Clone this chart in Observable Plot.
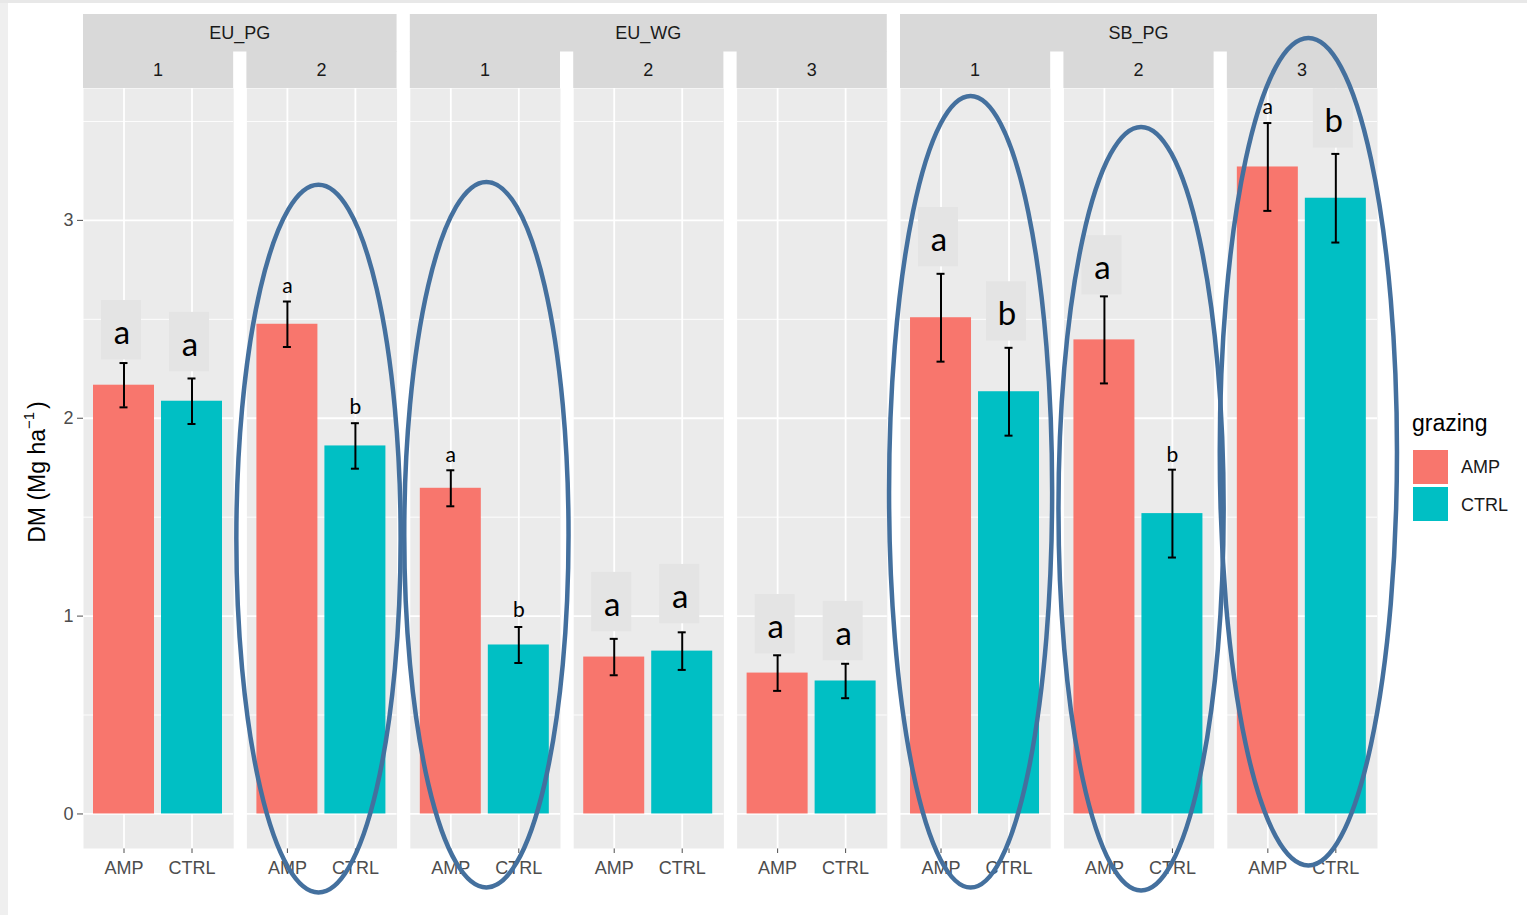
<!DOCTYPE html>
<html><head><meta charset="utf-8">
<script src="https://cdn.jsdelivr.net/npm/d3@7"></script>
<script src="https://cdn.jsdelivr.net/npm/@observablehq/plot@0.6"></script>
<style>
html,body{margin:0;padding:0;background:#fff;}
#wrap{position:relative;width:1527px;height:915px;overflow:hidden;background:#fff;}
#edgeL{position:absolute;left:0;top:0;width:8px;height:915px;background:#EFEFEF;}
#edgeT{position:absolute;left:0;top:0;width:1527px;height:3px;background:#E8E8E8;}
#chart{position:absolute;left:0;top:0;}
.lg{position:absolute;font-family:"Liberation Sans",Arial,sans-serif;color:#1A1A1A;white-space:nowrap;}
.sw{position:absolute;width:35px;height:34px;}
</style></head>
<body><div id="wrap"><div id="edgeL"></div><div id="edgeT"></div><div id="chart"></div><div id="legend"></div></div>
<script>
// ---- data ----
const sites = ["EU_PG","EU_PG","EU_WG","EU_WG","EU_WG","SB_PG","SB_PG","SB_PG"];
const plotIds = ["1","2","1","2","3","1","2","3"];
const grazing = ["AMP","CTRL"];
const yTicks = [0, 1, 2, 3];
const dmAMP  = [2.167, 2.475, 1.646, 0.793, 0.712, 2.508, 2.396, 3.270];
const dmCTRL = [2.086, 1.860, 0.854, 0.823, 0.672, 2.134, 1.518, 3.112];
const seAMP  = [0.112, 0.115, 0.091, 0.092, 0.090, 0.222, 0.220, 0.222];
const seCTRL = [0.115, 0.115, 0.091, 0.095, 0.087, 0.222, 0.222, 0.224];
const letterAMP  = ["a","a","a","a","a","a","a","a"];
const letterCTRL = ["a","b","b","a","a","b","b","b"];
const letterYAMP  = [2.43, 2.667, 1.813, 1.056, 0.944, 2.90, 2.758, 3.571];
const letterYCTRL = [2.37, 2.056, 1.030, 1.096, 0.909, 2.525, 1.813, 3.500];
const boxedAMP  = [true,false,false,true,true,true,true,false];
const boxedCTRL = [true,false,false,true,true,true,false,true];
const fillColors = ["#F8766D","#00BFC4"];
// hand-drawn ovals: panel, vertical extent (data units), centre shift and half-width (fraction of panel width)
const ovalSite  = ["EU_PG","EU_WG","SB_PG","SB_PG","SB_PG"];
const ovalPlot  = ["2","1","1","2","3"];
const ovalTop   = [3.177, 3.192, 3.626, 3.470, 3.919];
const ovalBottom= [-0.399,-0.374,-0.374,-0.389,-0.263];
const ovalShift = [-0.02, 0.01, -0.03, 0.017, 0.043];
const ovalHalf  = [0.547, 0.547, 0.543, 0.55, 0.59];

// ---- build table ----
const panelKeys = sites.map((s,i) => s + " " + plotIds[i]);
const table = [];
panelKeys.forEach((k,i) => {
  table.push({panel:k, grazing:"AMP", dm:dmAMP[i], se:seAMP[i], letter:letterAMP[i], ly:letterYAMP[i], boxed:boxedAMP[i]});
  table.push({panel:k, grazing:"CTRL", dm:dmCTRL[i], se:seCTRL[i], letter:letterCTRL[i], ly:letterYCTRL[i], boxed:boxedCTRL[i]});
});
const maxHi = d3.max(table, d => d.dm + d.se);

const W = 1527, H = 915, mL = 83, mR = 150, mT = 88, mB = 67;
const chart = Plot.plot({
  width: W, height: H,
  marginLeft: mL, marginRight: mR, marginTop: mT, marginBottom: mB,
  style: {fontFamily: "'Liberation Sans', Arial, sans-serif", fontSize: "18px", color: "#4D4D4D", background: "transparent", overflow: "visible"},
  facet: {data: table, x: "panel"},
  fx: {domain: panelKeys, paddingInner: 0.081, paddingOuter: 0, round: false, axis: null, label: null},
  x: {domain: grazing, paddingInner: 0.1, paddingOuter: 0.15, label: null, tickSize: 5, tickPadding: 8},
  y: {domain: [-0.05*maxHi, 1.05*maxHi], ticks: yTicks, tickFormat: d => String(d), label: null, tickSize: 6, tickPadding: 4},
  color: {domain: grazing, range: fillColors},
  marks: [
    Plot.frame({fill: "#EBEBEB", stroke: "none"}),
    Plot.ruleY([0.5,1.5,2.5,3.5], {stroke: "#fff", strokeWidth: 0.9}),
    Plot.ruleY(yTicks, {stroke: "#fff", strokeWidth: 1.8}),
    Plot.ruleX(grazing, {stroke: "#fff", strokeWidth: 1.8}),
    Plot.barY(table, {x: "grazing", y: "dm", fill: "grazing"}),
    Plot.barY(table, {filter: d => d.boxed, x: "grazing", y1: d => d.ly - 0.135, y2: d => d.ly + 0.165, fill: "#E4E4E4", insetLeft: 8, insetRight: 13}),
    Plot.ruleX(table, {x: "grazing", y1: d => d.dm - d.se, y2: d => d.dm + d.se, stroke: "#000", strokeWidth: 2}),
    Plot.tickY(table, {x: "grazing", y: d => d.dm - d.se, stroke: "#000", strokeWidth: 2, insetLeft: 26.5, insetRight: 26.5}),
    Plot.tickY(table, {x: "grazing", y: d => d.dm + d.se, stroke: "#000", strokeWidth: 2, insetLeft: 26.5, insetRight: 26.5}),
    Plot.text(table, {filter: d => d.boxed, x: "grazing", y: "ly", text: "letter", fontSize: 33, fontFamily: "Lato, 'Open Sans', sans-serif", fill: "#000", dx: -2}),
    Plot.text(table, {filter: d => !d.boxed, x: "grazing", y: "ly", text: "letter", fontSize: 21, fontFamily: "Lato, 'Open Sans', sans-serif", fill: "#000"})
  ]
});
document.getElementById("chart").appendChild(chart);

// ---- strips, axis title and ovals, positioned through Plot's scales ----
const svg = d3.select(chart);
const fxS = chart.scale("fx"), yS = chart.scale("y");
const bw = fxS.bandwidth;
const stripH = 37;
const g = svg.append("g");
// sub strips
panelKeys.forEach((k,i) => {
  const x0 = fxS.apply(k);
  g.append("rect").attr("x", x0).attr("y", mT - stripH).attr("width", bw).attr("height", stripH).attr("fill", "#D9D9D9");
  g.append("text").attr("x", x0 + bw/2).attr("y", mT - stripH/2).attr("dy", "0.35em").attr("text-anchor", "middle")
    .attr("fill", "#1A1A1A").attr("font-size", 18).text(plotIds[i]);
});
// group strips
const groups = Array.from(new Set(sites));
groups.forEach(s => {
  const ks = panelKeys.filter((k,i) => sites[i] === s);
  const x0 = fxS.apply(ks[0]), x1 = fxS.apply(ks[ks.length-1]) + bw;
  g.append("rect").attr("x", x0).attr("y", mT - 2*stripH).attr("width", x1 - x0).attr("height", stripH + 0.5).attr("fill", "#D9D9D9");
  g.append("text").attr("x", (x0+x1)/2).attr("y", mT - 1.5*stripH).attr("dy", "0.35em").attr("text-anchor", "middle")
    .attr("fill", "#1A1A1A").attr("font-size", 18).text(s);
});
// y axis title
const yt = g.append("text").attr("transform", `translate(37,${(yS.apply(yS.domain[0]) + yS.apply(yS.domain[1]))/2 + 4}) rotate(-90)`)
  .attr("text-anchor", "middle").attr("dy", "0.35em").attr("fill", "#000").attr("font-size", 23);
yt.append("tspan").text("DM (Mg ha");
yt.append("tspan").attr("font-size", 15).attr("dy", "-0.75em").text("\u22121");
yt.append("tspan").attr("dy", "0.5em").attr("dx", "3").text(")");
// ovals
ovalSite.forEach((s,i) => {
  const k = s + " " + ovalPlot[i];
  const cx = fxS.apply(k) + bw/2 + ovalShift[i]*bw;
  const yTop = yS.apply(ovalTop[i]), yBot = yS.apply(ovalBottom[i]);
  g.append("ellipse").attr("cx", cx).attr("cy", (yTop+yBot)/2).attr("rx", ovalHalf[i]*bw).attr("ry", (yBot-yTop)/2)
    .attr("fill", "none").attr("stroke", "#44709E").attr("stroke-width", 4.5);
});

// ---- legend ----
const lg = document.getElementById("legend");
lg.innerHTML = `<div class="lg" style="left:1412px;top:412px;font-size:23px;line-height:23px;color:#000">grazing</div>` +
  grazing.map((c,i) => `<div class="sw" style="left:1413px;top:${450+i*37}px;background:${fillColors[i]}"></div>` +
    `<div class="lg" style="left:1461px;top:${458+i*38}px;font-size:18px;line-height:18px">${c}</div>`).join("");
</script>
</body></html>
